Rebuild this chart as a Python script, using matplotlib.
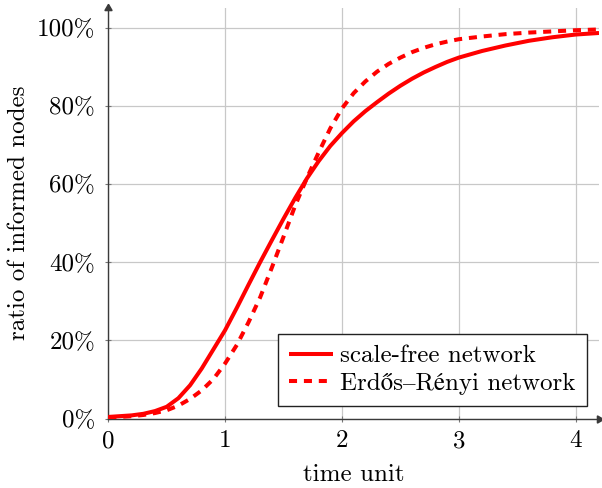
import matplotlib
matplotlib.use("Agg")
import matplotlib.pyplot as plt

# data
time = [0.0, 0.1, 0.2, 0.3, 0.4, 0.5, 0.6, 0.7, 0.8, 0.9, 1.0, 1.1, 1.2, 1.3,
        1.4, 1.5, 1.6, 1.7, 1.8, 1.9, 2.0, 2.1, 2.2, 2.3, 2.4, 2.5, 2.6, 2.7,
        2.8, 2.9, 3.0, 3.2, 3.4, 3.6, 3.8, 4.0, 4.2]
scale_free = [0.004, 0.006, 0.008, 0.012, 0.019, 0.030, 0.052, 0.085, 0.128,
              0.177, 0.226, 0.283, 0.342, 0.400, 0.456, 0.511, 0.564, 0.614,
              0.658, 0.697, 0.730, 0.760, 0.786, 0.809, 0.831, 0.851, 0.869,
              0.885, 0.899, 0.912, 0.923, 0.940, 0.954, 0.966, 0.975, 0.982,
              0.986]
erdos_renyi = [0.003, 0.004, 0.006, 0.009, 0.014, 0.021, 0.033, 0.050, 0.072,
               0.101, 0.141, 0.188, 0.246, 0.310, 0.386, 0.465, 0.545, 0.615,
               0.680, 0.742, 0.793, 0.832, 0.862, 0.887, 0.907, 0.923, 0.937,
               0.948, 0.957, 0.964, 0.970, 0.977, 0.983, 0.987, 0.990, 0.993,
               0.995]
series_labels = ["scale-free network", "Erdős–Rényi network"]
x_ticks = [0, 1, 2, 3, 4]
y_ticks = [0.0, 0.2, 0.4, 0.6, 0.8, 1.0]
y_tick_labels = ["0%", "20%", "40%", "60%", "80%", "100%"]

FONT = ["cmr10", "STIXGeneral", "DejaVu Serif"]
plt.rcParams["font.family"] = FONT
plt.rcParams["axes.formatter.use_mathtext"] = True
FS = 18

W, H = 602, 488
fig = plt.figure(figsize=(W / 100, H / 100), dpi=100)
x0, x1 = 108.3, 599.0
y0 = 418.5
xmax = 4.2
ymax = 1.05
ax = fig.add_axes([x0 / W, 1 - y0 / H, (x1 - x0) / W, ymax * 391 / H])

red = "#ff0000"
ax.plot(time, scale_free, color=red, lw=2.9, solid_capstyle="butt",
        solid_joinstyle="round", label=series_labels[0], zorder=3)
ax.plot(time, erdos_renyi, color=red, lw=2.9, dashes=(2.0, 1.7),
        dash_capstyle="butt", dash_joinstyle="round",
        label=series_labels[1], zorder=3)

ax.set_xlim(0, xmax)
ax.set_ylim(0, ymax)
ax.set_xticks(x_ticks)
ax.set_xticklabels([str(v) for v in x_ticks])
ax.set_yticks(y_ticks)
ax.set_yticklabels(y_tick_labels)

ax.grid(True, color="#c8c8c8", lw=0.9)
ax.set_axisbelow(True)
for s in ["top", "right"]:
    ax.spines[s].set_visible(False)
axis_col = "#3a3a3a"
for s in ["left", "bottom"]:
    ax.spines[s].set_color(axis_col)
    ax.spines[s].set_linewidth(1.0)
ax.tick_params(direction="inout", length=5, width=0.8, color="#777777",
               labelsize=FS, pad=6)
ax.tick_params(axis="y", pad=7)

# arrow heads
ax.plot(1, 0, marker=(3, 0, -90), ms=6, color=axis_col,
        transform=ax.transAxes, clip_on=False)
ax.plot(0, 1, marker=(3, 0, 0), ms=6, color=axis_col,
        transform=ax.transAxes, clip_on=False)

ax.set_xlabel("time unit", fontsize=FS, labelpad=8)
ax.set_ylabel("ratio of informed nodes", fontsize=FS, labelpad=5)

leg = ax.legend(loc="lower right", bbox_to_anchor=(587 / W, 1 - 406 / H),
                bbox_transform=fig.transFigure, borderaxespad=0,
                fontsize=FS, frameon=True, fancybox=False, framealpha=1,
                edgecolor="#222222", handlelength=1.75, handletextpad=0.3,
                labelspacing=0.2, borderpad=0.45)
leg.get_frame().set_linewidth(1.0)

fig.savefig("out.png", dpi=100)
